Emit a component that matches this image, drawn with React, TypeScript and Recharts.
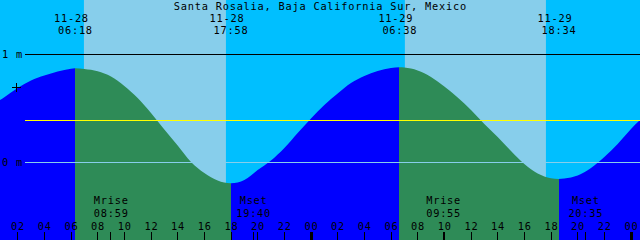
import { ComposedChart, Area, XAxis, YAxis, ReferenceLine, ReferenceArea, ReferenceDot } from 'recharts'

const W = 640
const H = 240
const FONT = '"DejaVu Sans Mono", monospace'
const FS = 10.3

const title = 'Santa Rosalia, Baja California Sur, Mexico'

// tide height in metres, one reading per hour, index 0 = 11-28 00:00
const levels = [
  0.52, 0.6, 0.685, 0.755, 0.8, 0.838, 0.864, 0.861, 0.84, 0.792,
  0.704, 0.593, 0.454, 0.301, 0.153, 0.0, -0.102, -0.171, -0.197, -0.167,
  -0.074, 0.014, 0.13, 0.269, 0.403, 0.528, 0.634, 0.731, 0.796, 0.843,
  0.871, 0.874, 0.847, 0.787, 0.699, 0.597, 0.481, 0.352, 0.231, 0.102,
  -0.019, -0.106, -0.15, -0.152, -0.125, -0.056, 0.046, 0.167, 0.306, 0.426,
]

// high / low water
const extremeTimes = [6.3, 17.967, 30.633, 42.567]
const extremeLevels = [0.868, -0.197, 0.877, -0.157]
const extremeDates = ['11-28', '11-28', '11-29', '11-29']
const extremeClock = ['06:18', '17:58', '06:38', '18:34']

// daylight (lighter sky)
const sunRise = [6.97, 31.04]
const sunSet = [17.62, 41.62]

const moonTimes = [8.983, 19.667, 33.917, 44.583]
const moonKinds = ['Mrise', 'Mset', 'Mrise', 'Mset']
const moonClock = ['08:59', '19:40', '09:55', '20:35']

const hourTicks = [2, 4, 6, 8, 10, 12, 14, 16, 18, 20, 22, 24, 26, 28, 30, 32, 34, 36, 38, 40, 42, 44, 46, 48]
const meterTicks = [0, 1]
const meanLevel = 0.386
const nowMark = { t: 1.91, level: 0.69 }

const xDomain = [0.675, 48.675]
const yDomain = [-0.722, 1.5]
const lineStart = 2.55

const RISE = '#0000FF'
const FALL = '#2E8B57'

const rows = [
  ...levels.map((v, i) => ({ t: i, level: v })),
  ...extremeTimes.map((t, i) => ({ t, level: extremeLevels[i] })),
].sort((a, b) => a.t - b.t)

// fill switches colour at each high / low; offsets relative to the area's own x extent
const tFirst = rows[0].t
const tLast = rows[rows.length - 1].t
const offsetOf = (t: number) => (t - tFirst) / (tLast - tFirst)
const fillStops: { offset: number; color: string }[] = []
extremeTimes.forEach((t, i) => {
  const before = i % 2 === 0 ? RISE : FALL
  const after = i % 2 === 0 ? FALL : RISE
  fillStops.push({ offset: offsetOf(t), color: before }, { offset: offsetOf(t), color: after })
})

const txt = { fontFamily: FONT, fontSize: FS, letterSpacing: 0.78, fill: '#000' }

function HourTick(props: any) {
  const { x, payload } = props
  const v = payload.value
  const isHour = Number.isInteger(v)
  const midnight = isHour && v % 24 === 0
  return (
    <g>
      <line x1={x} x2={x} y1={H - 8} y2={H} stroke="#000" strokeWidth={midnight ? 3 : 1} shapeRendering="crispEdges" />
      {isHour && (
        <text x={x + 0.4} y={H - 10.3} textAnchor="middle" {...txt}>
          {String(v % 24).padStart(2, '0')}
        </text>
      )}
    </g>
  )
}

function MeterTick(props: any) {
  const { y, payload } = props
  return (
    <text x={2} y={y + 3.8} textAnchor="start" {...txt}>
      {payload.value} m
    </text>
  )
}

const extremeLabel = (i: number) => (p: any) => (
  <g>
    <text x={p.cx - 3.6} y={22} textAnchor="middle" {...txt}>{extremeDates[i]}</text>
    <text x={p.cx + 0.4} y={34.2} textAnchor="middle" {...txt}>{extremeClock[i]}</text>
  </g>
)

const moonLabel = (i: number) => (p: any) => (
  <g>
    <text x={p.cx + 0.4} y={204.3} textAnchor="middle" {...txt}>{moonKinds[i]}</text>
    <text x={p.cx + 0.4} y={216.5} textAnchor="middle" {...txt}>{moonClock[i]}</text>
  </g>
)

const plusMark = (p: any) => (
  <g stroke="#000" strokeWidth={1} shapeRendering="crispEdges">
    <line x1={p.cx - 4.5} x2={p.cx + 4.5} y1={p.cy} y2={p.cy} />
    <line x1={p.cx} x2={p.cx} y1={p.cy - 4.5} y2={p.cy + 4.5} />
  </g>
)

export default function App() {
  return (
    <div style={{ position: 'absolute', left: 0, top: 0, width: W, height: H, background: '#00BFFF' }}>
      <ComposedChart width={W} height={H} data={rows} margin={{ top: 0, right: 0, bottom: 0, left: 0 }}>
        <defs>
          <linearGradient id="tideFill" x1="0" y1="0" x2="1" y2="0">
            <stop offset={0} stopColor={RISE} />
            {fillStops.map((s, i) => (
              <stop key={i} offset={s.offset} stopColor={s.color} />
            ))}
            <stop offset={1} stopColor={RISE} />
          </linearGradient>
        </defs>
        {sunRise.map((s, i) => (
          <ReferenceArea key={'d' + i} x1={s} x2={sunSet[i]} y1={yDomain[0]} y2={yDomain[1]} fill="#87CEEB" fillOpacity={1} stroke="none" zIndex={-1} />
        ))}
        <XAxis
          dataKey="t"
          type="number"
          domain={xDomain}
          allowDataOverflow
          ticks={[...hourTicks, ...moonTimes].sort((a, b) => a - b)}
          interval={0}
          mirror
          axisLine={false}
          tickLine={false}
          tick={<HourTick />}
        />
        <YAxis type="number" domain={yDomain} allowDataOverflow ticks={meterTicks} mirror axisLine={false} tickLine={false} tick={<MeterTick />} />
        <Area
          dataKey="level"
          type="monotone"
          baseValue="dataMin"
          fill="url(#tideFill)"
          fillOpacity={1}
          stroke="none"
          dot={false}
          activeDot={false}
          isAnimationActive={false}
        />
        <ReferenceLine segment={[{ x: lineStart, y: 1 }, { x: xDomain[1], y: 1 }]} stroke="#000" strokeWidth={1} shapeRendering="crispEdges" />
        <ReferenceLine segment={[{ x: lineStart, y: meanLevel }, { x: xDomain[1], y: meanLevel }]} stroke="#FFFF00" strokeWidth={1} shapeRendering="crispEdges" />
        <ReferenceLine segment={[{ x: lineStart, y: 0 }, { x: xDomain[1], y: 0 }]} stroke="#87CEEB" strokeWidth={1} shapeRendering="crispEdges" />
        <ReferenceDot x={nowMark.t} y={nowMark.level} shape={plusMark} />
        {extremeTimes.map((t, i) => (
          <ReferenceDot key={'e' + i} x={t} y={extremeLevels[i]} shape={extremeLabel(i)} />
        ))}
        {moonTimes.map((t, i) => (
          <ReferenceDot key={'m' + i} x={t} y={0} shape={moonLabel(i)} />
        ))}
        <text x={W / 2 + 0.4} y={10} textAnchor="middle" {...txt}>{title}</text>
      </ComposedChart>
    </div>
  )
}
